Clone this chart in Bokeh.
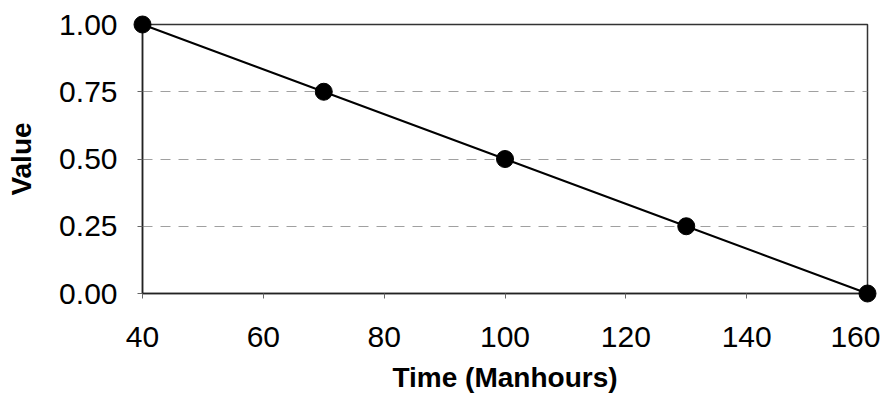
from bokeh.plotting import figure
from bokeh.models import Range1d, FixedTicker
from bokeh.embed import file_html
from bokeh.resources import INLINE

time_hours = [40, 70, 100, 130, 160]
values = [1.00, 0.75, 0.50, 0.25, 0.00]
x_ticks = [40, 60, 80, 100, 120, 140, 160]
y_ticks = [0.0, 0.25, 0.5, 0.75, 1.0]
y_tick_labels = {0.0: "0.00", 0.25: "0.25", 0.5: "0.50", 0.75: "0.75", 1.0: "1.00"}
x_title = "Time (Manhours)"
y_title = "Value"

p = figure(width=880, height=395, output_backend="svg", toolbar_location=None,
           x_range=Range1d(40, 160), y_range=Range1d(0, 1),
           min_border_left=142, min_border_right=13, min_border_top=24, min_border_bottom=102)
p.outline_line_color = "#333333"
p.outline_line_width = 1.5
p.background_fill_color = "white"

p.xgrid.visible = False
p.ygrid.ticker = FixedTicker(ticks=[0.25, 0.5, 0.75])
p.ygrid.grid_line_color = "#a0a0a0"
p.ygrid.grid_line_dash = "10 8"
p.ygrid.grid_line_width = 1

for ax in (p.xaxis[0], p.yaxis[0]):
    ax.axis_line_color = "#222222"
    ax.axis_line_width = 1.5
    ax.major_tick_in = 0
    ax.major_tick_out = 5
    ax.major_tick_line_color = "#666666"
    ax.minor_tick_line_color = None
    ax.major_label_text_font = "Liberation Sans"
    ax.major_label_text_font_size = "30px"
    ax.major_label_text_color = "black"
    ax.axis_label_text_font = "Liberation Sans"
    ax.axis_label_text_font_size = "28px"
    ax.axis_label_text_font_style = "bold"
    ax.axis_label_text_color = "black"

p.xaxis.ticker = FixedTicker(ticks=x_ticks)
p.yaxis.ticker = FixedTicker(ticks=y_ticks)
p.yaxis.major_label_overrides = y_tick_labels
p.xaxis.axis_label = x_title
p.yaxis.axis_label = y_title
p.xaxis.major_label_standoff = 28
p.yaxis.major_label_standoff = 20
p.xaxis.axis_label_standoff = 12
p.yaxis.axis_label_standoff = 19

p.line(time_hours, values, line_color="black", line_width=2, level="overlay")
p.scatter(time_hours, values, size=17, fill_color="black", line_color="black", level="overlay")

open("out.html", "w").write(file_html(p, INLINE))
